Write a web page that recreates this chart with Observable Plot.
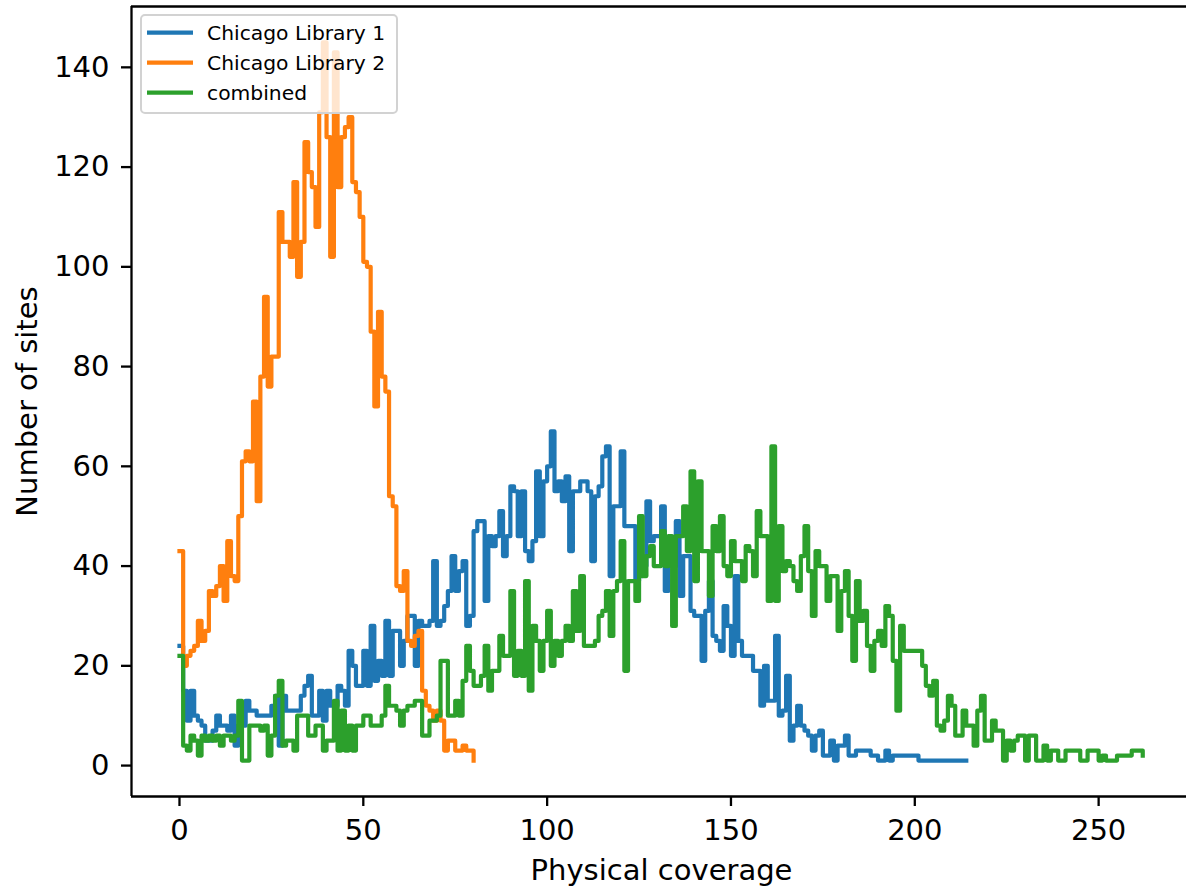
<!DOCTYPE html>
<html>
<head>
<meta charset="utf-8">
<script src="https://cdn.jsdelivr.net/npm/d3@7"></script>
<script src="https://cdn.jsdelivr.net/npm/@observablehq/plot@0.6"></script>
<style>
  html, body { margin: 0; padding: 0; background: #fff; overflow: hidden; }
  #chart { position: relative; width: 1186px; height: 892px; }
</style>
</head>
<body>
<div id="chart"></div>
<script>
// ---- data (index = physical coverage, value = number of sites) ----
const seriesNames = ["Chicago Library 1", "Chicago Library 2", "combined"];
const seriesColors = ["#1f77b4", "#ff7f0e", "#2ca02c"];
const xTicks = [0, 50, 100, 150, 200, 250];
const yTicks = [0, 20, 40, 60, 80, 100, 120, 140];
const xLabel = "Physical coverage";
const yLabel = "Number of sites";

const lib1 = [
  24,15,9,15,10,9,8,5,5,7,
  10,8,8,7,10,4,8,8,13,11,
  11,10,10,10,10,12,14,4,14,11,
  11,11,11,14,16,18,10,10,15,9,
  15,12,12,16,15,12,23,20,16,16,
  23,16,28,17,21,18,29,18,27,27,
  20,25,30,30,20,29,28,28,29,41,
  28,29,32,35,42,35,39,41,28,30,
  47,49,49,33,46,44,46,51,42,46,
  56,55,46,55,43,41,45,59,46,57,
  60,67,55,57,53,58,43,55,55,57,
  57,55,41,54,56,62,64,38,52,52,
  63,48,48,48,37,38,40,53,45,46,
  46,52,35,42,40,49,34,42,42,31,
  30,30,21,31,37,26,25,23,32,28,
  22,38,25,22,22,22,19,19,12,20,
  13,13,26,10,11,18,5,8,12,8,
  7,6,3,6,7,2,2,5,1,4,
  4,6,2,2,3,3,3,3,2,2,
  1,1,3,1,2,2,2,2,2,2,
  2,1,1,1,1,1,1,1,1,1,
  1,1,1,1,1
];

const lib2 = [
  43,20,22,23,24,29,25,27,35,34,
  36,40,33,45,38,37,50,61,63,61,
  73,53,78,94,76,82,82,111,105,105,
  102,117,98,105,125,119,116,108,131,145,
  126,102,143,116,126,128,130,117,115,110,
  101,100,87,72,91,78,75,54,52,36,
  35,39,25,24,26,27,15,12,11,9,
  11,9,3,5,5,3,3,4,3,3,
  1
];

const combined = [
  22,4,3,6,5,2,6,5,6,5,
  6,4,6,6,5,6,13,1,1,8,
  8,8,7,8,2,6,14,17,4,5,
  5,3,10,10,10,6,6,8,8,3,
  5,5,13,3,11,3,8,3,8,8,
  10,10,8,8,8,10,16,12,12,11,
  8,11,12,12,13,13,6,6,9,9,
  10,21,21,10,10,13,10,17,24,19,
  16,16,18,24,15,19,19,26,22,22,
  35,18,23,18,37,15,28,25,19,25,
  31,20,25,22,25,28,25,35,27,38,
  24,24,24,25,30,31,35,26,35,37,
  45,19,37,37,33,50,38,42,44,40,
  40,47,40,46,28,46,46,52,43,59,
  37,57,43,43,34,48,43,50,40,38,
  45,41,41,37,44,43,38,51,46,46,
  33,64,33,48,39,41,40,37,35,42,
  48,39,30,43,40,40,33,38,38,27,
  35,39,30,21,37,29,31,24,19,25,
  27,24,32,30,21,11,28,23,23,23,
  23,23,20,16,14,17,8,7,9,14,
  12,6,6,11,8,8,4,11,14,5,
  5,9,7,7,1,5,3,5,6,6,
  1,6,6,1,1,4,1,3,3,1,
  1,3,3,3,3,1,1,3,3,3,
  1,2,1,1,1,2,2,2,2,3,
  3,3,2
];

// ---- build rows ----
const allSeries = [lib1, lib2, combined];
const rows = allSeries.map(vals => vals.map((v, i) => ({coverage: i, sites: v})));

const xDomain = [-13.05, 273.9];
const yDomain = [-6.2, 152.2];
const axisW = 2.3;
const lineW = 4.2;
const fontStack = "'DejaVu Sans', 'Liberation Sans', sans-serif";

const plot = Plot.plot({
  width: 1186,
  height: 892,
  marginLeft: 131,
  marginRight: 0,
  marginTop: 6,
  marginBottom: 96,
  x: {domain: xDomain},
  y: {domain: yDomain},
  style: {fontFamily: fontStack, fontSize: "29px", color: "#000", background: "#fff"},
  marks: [
    ...rows.map((data, j) => Plot.line(data, {
      x: "coverage", y: "sites", curve: "step-after",
      stroke: seriesColors[j], strokeWidth: lineW, strokeLinejoin: "round", strokeLinecap: "square"
    })),
    Plot.ruleY([yDomain[0], yDomain[1]], {stroke: "#000", strokeWidth: axisW}),
    Plot.ruleX([xDomain[0]], {stroke: "#000", strokeWidth: axisW}),
    Plot.axisX({ticks: xTicks, tickSize: 10, tickPadding: 13, strokeWidth: axisW, label: null, fontSize: 29}),
    Plot.axisY({ticks: yTicks, tickSize: 10, tickPadding: 12, strokeWidth: axisW, label: null, fontSize: 29}),
    Plot.text([xLabel], {text: d => d, frameAnchor: "bottom", textAnchor: "middle", dy: 83, dx: 2.5, fontSize: 29, fill: "#000"}),
    Plot.text([yLabel], {text: d => d, frameAnchor: "left", textAnchor: "middle", lineAnchor: "middle", rotate: -90, dx: -104, fontSize: 29, fill: "#000"})
  ]
});

// ---- legend (matplotlib style, upper left) ----
const svg = d3.select(plot);
const lg = svg.append("g").attr("font-family", fontStack).attr("text-anchor", "start");
lg.append("rect")
  .attr("x", 141).attr("y", 15).attr("width", 256).attr("height", 98).attr("rx", 4)
  .attr("fill", "#fff").attr("fill-opacity", 0.8)
  .attr("stroke", "#d2d2d2").attr("stroke-width", 2);
seriesNames.forEach((name, j) => {
  const yy = 32.7 + 30 * j;
  lg.append("line")
    .attr("x1", 147).attr("x2", 193).attr("y1", yy).attr("y2", yy)
    .attr("stroke", seriesColors[j]).attr("stroke-width", lineW);
  lg.append("text")
    .attr("x", 207).attr("y", yy + 7.4)
    .attr("text-anchor", "start")
    .attr("font-size", "20.3px").attr("fill", "#000")
    .text(name);
});

document.getElementById("chart").appendChild(plot);
</script>
</body>
</html>
